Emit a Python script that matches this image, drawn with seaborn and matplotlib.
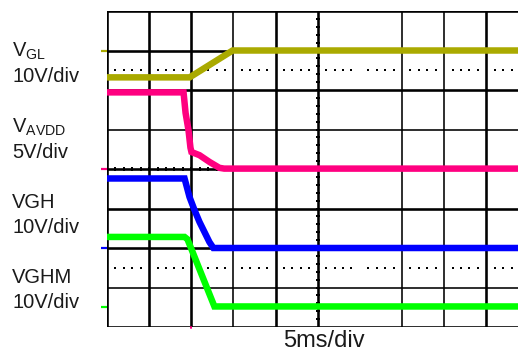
import numpy as np
import pandas as pd
import seaborn as sns
import matplotlib
matplotlib.use("Agg")
import matplotlib.pyplot as plt

# ---- captured waveforms (time in ms, amplitude in volts) ----
vgl_t = [0.0, 9.8, 14.9, 50.0]
vgl_v = [-6.8, -6.8, 0.0, 0.0]

avdd_t = [0.0, 9.08, 9.32, 9.67, 9.9, 10.02, 10.97, 12.15, 13.33, 13.9, 50.0]
avdd_v = [9.7, 9.7, 7.1, 4.9, 2.7, 2.15, 1.75, 0.9, 0.15, 0.05, 0.05]

vgh_t = [0.0, 9.2, 9.79, 10.38, 10.97, 11.56, 12.15, 12.62, 50.0]
vgh_v = [17.6, 17.6, 12.9, 9.6, 6.6, 4.05, 1.5, 0.0, 0.0]

vghm_t = [0.0, 9.2, 9.55, 12.74, 50.0]
vghm_v = [17.8, 17.8, 17.2, 0.2, 0.2]

channels = ["VGL", "VAVDD", "VGH", "VGHM"]
volts_per_div = [10, 5, 10, 10]
ground_div = [7.0, 4.0, 2.0, 0.5]          # channel ground level on screen
colors = ["#AAAA00", "#FF0080", "#0000FF", "#00FF00"]
series = [(vgl_t, vgl_v), (avdd_t, avdd_v), (vgh_t, vgh_v), (vghm_t, vghm_v)]

ms_per_div = 5
n_hdiv, n_vdiv = 10, 8

frames = []
for name, vpd, g, (t, v) in zip(channels, volts_per_div, ground_div, series):
    frames.append(pd.DataFrame({
        "time": t,
        "screen": g + np.asarray(v) / vpd,
        "channel": name,
    }))
df = pd.concat(frames, ignore_index=True)

sns.set_style("white")
plt.rcParams["font.family"] = ["Liberation Sans", "DejaVu Sans"]
plt.rcParams["mathtext.fontset"] = "custom"
plt.rcParams["mathtext.rm"] = "Liberation Sans"
plt.rcParams["mathtext.it"] = "Liberation Sans"

W, H = 518, 352
fig = plt.figure(figsize=(W / 100, H / 100), dpi=100)
left_px, right_px, top_px, bot_px = 107, 528.5, 11, 327
ax = fig.add_axes([left_px / W, 1 - bot_px / H,
                   (right_px - left_px) / W, (bot_px - top_px) / H])
ax.set_xlim(0, n_hdiv * ms_per_div)
ax.set_ylim(0, n_vdiv)

# ---- graticule ----
px = 72 / 100
thick_v = {0, 5, 10, 20, 25, 45, 50}
for k in range(n_hdiv + 1):
    t = k * ms_per_div
    if t == 30:
        continue
    ax.axvline(t, color="black", lw=(2.6 if t in thick_v else 1.6) * px, zorder=1)
thick_h = {0, 2, 3, 4, 6, 7, 8}
for k in range(n_vdiv + 1):
    ax.axhline(k, color="black", lw=(2.6 if k in thick_h else 1.6) * px, zorder=1)

# centre-line minor ticks
for j in range(1, n_vdiv * 5):
    ax.plot([24.75, 25.25], [j / 5, j / 5], color="black", lw=2 * px, zorder=1,
            solid_capstyle="butt")
for j in range(1, n_hdiv * 5):
    ax.plot([j, j], [3.95, 4.05], color="black", lw=2 * px, zorder=1,
            solid_capstyle="butt")

# dotted half-division markers
dots = [j for j in range(1, n_hdiv * ms_per_div) if j % ms_per_div]
for yy in (6.5, 1.5):
    ax.scatter(dots, [yy] * len(dots), marker="s", s=1.6, color="black",
               linewidths=0, zorder=1)

for side in ["left", "right", "top", "bottom"]:
    ax.spines[side].set_visible(False)
ax.set_xticks([])
ax.set_yticks([])

# ---- traces ----
sns.lineplot(data=df, x="time", y="screen", hue="channel", hue_order=channels,
             palette=colors, linewidth=6.5 * px, legend=False, sort=False,
             estimator=None, ax=ax, zorder=3)
for line in ax.get_lines()[-len(channels):]:
    line.set_solid_capstyle("butt")
    line.set_solid_joinstyle("miter")

# ground-level markers to the left of the screen
for g, c in zip(ground_div, colors):
    ax.plot([-0.75, 0], [g, g], color=c, lw=2.2 * px, clip_on=False,
            solid_capstyle="butt", zorder=4)
# trigger marker
ax.plot([10, 10], [-0.03, 0.0], color="#FF0080", lw=2 * px, clip_on=False, zorder=4)

ax.set_xlabel("")
ax.set_ylabel("")

# ---- channel captions ----
def put(x, y, s, size):
    fig.text(x / W, 1 - y / H, s, fontsize=size, ha="left", va="baseline",
             color="#1a1a1a")

fs = 14.5
put(12, 57, r"V$_{\mathrm{GL}}$", fs)
put(12, 82.5, "10V/div", fs)
put(12, 133, r"V$_{\mathrm{AVDD}}$", fs)
put(12, 158, "5V/div", fs)
put(12, 208, "VGH", fs)
put(12, 233, "10V/div", fs)
put(12, 283, "VGHM", fs)
put(12, 308, "10V/div", fs)
put(283, 347, "5ms/div", 17)

fig.savefig("out.png", dpi=100)
